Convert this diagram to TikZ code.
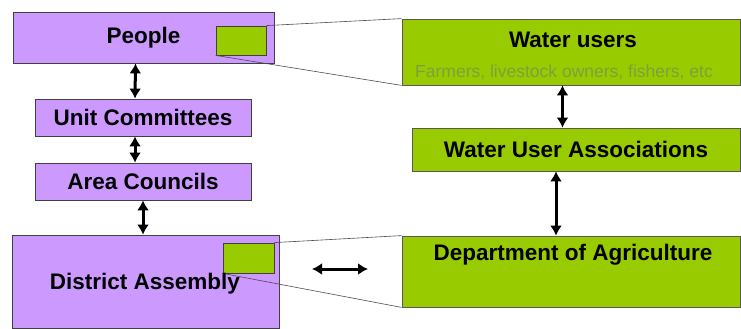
\documentclass[tikz,border=0pt]{standalone}
\usepackage{fontspec}
\usetikzlibrary{arrows.meta}
\setmainfont{Liberation Sans}
\definecolor{lilac}{RGB}{204,153,255}
\definecolor{leaf}{RGB}{153,204,0}
\definecolor{faded}{RGB}{128,158,62}
\begin{document}
\begin{tikzpicture}[x=1pt,y=-1pt,
  pbox/.style={draw=black!75,line width=0.8pt,fill=lilac,inner sep=0pt,font=\fontsize{22.5}{27}\selectfont\bfseries},
  gbox/.style={draw=black!65,line width=0.8pt,fill=leaf,inner sep=0pt,font=\fontsize{22.5}{27}\selectfont\bfseries},
  tag/.style={draw=black!75,line width=0.8pt,fill=leaf,minimum width=50pt,minimum height=29pt,inner sep=0pt},
  txt/.style={inner sep=0pt,font=\fontsize{22.5}{27}\selectfont\bfseries},
  link/.style={<->,>={Latex[length=10pt,width=12pt]},line width=3pt},
  callout/.style={draw=black!70,line width=0.6pt}]
\useasboundingbox (0,0) rectangle (741,329);
\node[pbox,minimum width=261pt,minimum height=51pt] (people) at (143.5,37.5) {People};
\node[pbox,minimum width=216pt,minimum height=37pt] (unit) at (143,117.5) {Unit Committees};
\node[pbox,minimum width=216pt,minimum height=37pt] (area) at (143,181.5) {Area Councils};
\node[pbox,minimum width=267pt,minimum height=93pt] (district) at (145.5,281.5) {};
\node[gbox,minimum width=338pt,minimum height=66pt] (wusers) at (571,52) {};
\node[gbox,minimum width=328pt,minimum height=43pt] (wua) at (576,149.5) {Water User Associations};
\node[gbox,minimum width=338pt,minimum height=71pt] (dept) at (571,271.5) {};
\node[tag] (tagp) at (241,40.5) {};
\node[tag,minimum width=51pt,minimum height=30pt] (tagd) at (248.5,258) {};
\draw[callout] (tagp.north east) -- (wusers.north west);
\draw[callout] (tagp.south west) -- (wusers.south west);
\draw[callout] (tagd.north east) -- (dept.north west);
\draw[callout] (tagd.south west) -- (dept.south west);
\node[txt] (dlabel) at (145,284) {District Assembly};
\node[txt] (wtitle) at (573,40) {Water users};
\node[inner sep=0pt,text=faded,font=\fontsize{17.5}{21}\selectfont] (wsub) at (564,72) {Farmers, livestock owners, fishers, etc};
\node[txt] (dtitle) at (573,255) {Department of Agriculture};
\coordinate (hl) at (312,269);
\coordinate (hr) at (368,269);
\draw[link] ([xshift=-8pt]people.south) -- ([xshift=-8pt]unit.north);
\draw[link] ([xshift=-8pt]unit.south) -- ([xshift=-8pt]area.north);
\draw[link] (area.south) -- (area.south |- district.north);
\draw[link] ([xshift=-8.5pt]wusers.south) -- ([xshift=-8.5pt]wusers.south |- wua.north);
\draw[link] ([xshift=-20pt]wua.south) -- ([xshift=-20pt]wua.south |- dept.north);
\draw[link] (hl) -- (hr);
\end{tikzpicture}
\end{document}
